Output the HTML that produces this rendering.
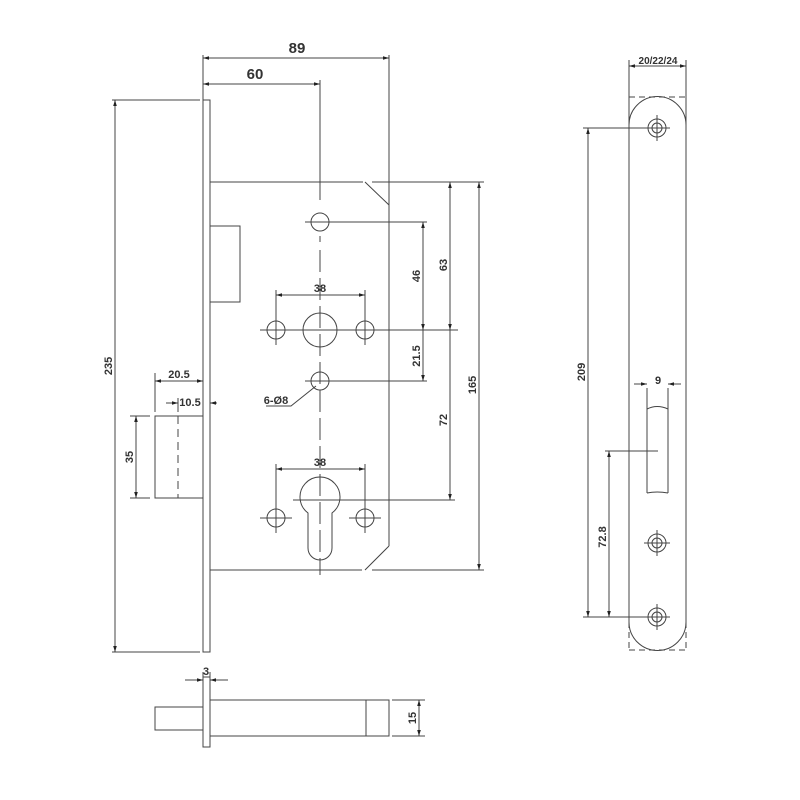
<!DOCTYPE html>
<html><head><meta charset="utf-8"><style>
html,body{margin:0;padding:0;background:#fff}
svg{display:block}
text{font-family:"Liberation Sans",sans-serif;font-weight:bold;fill:#333}
</style></head><body>
<svg width="800" height="800" viewBox="0 0 800 800" xmlns="http://www.w3.org/2000/svg">
<defs>
<marker id="a" viewBox="0 0 10 10" refX="10" refY="5" markerWidth="6" markerHeight="6" orient="auto-start-reverse"><path d="M0,2 L10,5 L0,8 z" fill="#222"/></marker>
</defs>
<g stroke="#444" stroke-width="1" fill="none">
<rect x="203" y="100" width="7" height="552"/>
<path d="M210,182 H363 M365,182 L389,205 M389,55 V546 M389,546 L365,570 M210,570 H362"/>
<line x1="210" y1="182" x2="210" y2="570"/>
<rect x="210" y="226" width="30" height="76"/>
<line x1="203" y1="58" x2="389" y2="58" marker-start="url(#a)" marker-end="url(#a)"/>
<line x1="203" y1="84" x2="320" y2="84" marker-start="url(#a)" marker-end="url(#a)"/>
<line x1="203" y1="55" x2="203" y2="100"/>
<line x1="320" y1="80" x2="320" y2="200"/>
<line x1="320" y1="236" x2="320" y2="242" />
<line x1="320" y1="250" x2="320" y2="575" stroke-dasharray="22,6"/>
<line x1="112" y1="100" x2="200" y2="100"/>
<line x1="112" y1="652" x2="200" y2="652"/>
<line x1="115" y1="100" x2="115" y2="652" marker-start="url(#a)" marker-end="url(#a)"/>
<circle cx="320" cy="222" r="9"/>
<line x1="305" y1="222" x2="427" y2="222"/>
<circle cx="320" cy="330" r="17"/>
<circle cx="276" cy="330" r="9"/>
<circle cx="365" cy="330" r="9"/>
<line x1="260" y1="330" x2="458" y2="330"/>
<line x1="276" y1="290" x2="276" y2="345"/>
<line x1="365" y1="290" x2="365" y2="345"/>
<line x1="276" y1="295" x2="365" y2="295" marker-start="url(#a)" marker-end="url(#a)"/>
<circle cx="320" cy="381" r="9"/>
<line x1="305" y1="381" x2="427" y2="381"/>
<path d="M266,406 H291 L316,386"/>
<line x1="423" y1="222" x2="423" y2="330" marker-start="url(#a)" marker-end="url(#a)"/>
<line x1="423" y1="330" x2="423" y2="381" marker-end="url(#a)"/>
<line x1="450" y1="182" x2="450" y2="330" marker-start="url(#a)" marker-end="url(#a)"/>
<line x1="450" y1="330" x2="450" y2="500" marker-end="url(#a)"/>
<line x1="479" y1="182" x2="479" y2="570" marker-start="url(#a)" marker-end="url(#a)"/>
<line x1="372" y1="182" x2="484" y2="182"/>
<line x1="372" y1="570" x2="484" y2="570"/>
<line x1="293" y1="500" x2="455" y2="500"/>
<path d="M308,513 A20,20 0 1 1 332,513 V548 A12,12 0 0 1 308,548 Z"/>
<circle cx="276" cy="518" r="9"/><line x1="260" y1="518" x2="292" y2="518"/><line x1="276" y1="503" x2="276" y2="533"/>
<circle cx="365" cy="518" r="9"/><line x1="349" y1="518" x2="381" y2="518"/><line x1="365" y1="503" x2="365" y2="533"/>
<line x1="276" y1="464" x2="276" y2="505"/>
<line x1="365" y1="464" x2="365" y2="505"/>
<line x1="276" y1="469" x2="365" y2="469" marker-start="url(#a)" marker-end="url(#a)"/>
<rect x="155" y="416" width="48" height="82"/>
<line x1="178" y1="416" x2="178" y2="498" stroke-dasharray="8,5"/>
<line x1="155" y1="373" x2="155" y2="412"/>
<line x1="155" y1="381" x2="203" y2="381" marker-start="url(#a)" marker-end="url(#a)"/>
<line x1="166" y1="403" x2="178" y2="403" marker-end="url(#a)"/>
<line x1="217" y1="403" x2="210" y2="403" marker-end="url(#a)"/>
<line x1="178" y1="398" x2="178" y2="412"/>
<line x1="130" y1="416" x2="150" y2="416"/>
<line x1="130" y1="498" x2="150" y2="498"/>
<line x1="136" y1="416" x2="136" y2="498" marker-start="url(#a)" marker-end="url(#a)"/>
<rect x="203" y="677" width="7" height="70"/>
<rect x="155" y="707" width="48" height="23"/>
<rect x="210" y="700" width="179" height="36"/>
<line x1="366" y1="700" x2="366" y2="736"/>
<line x1="392" y1="700" x2="425" y2="700"/>
<line x1="392" y1="736" x2="425" y2="736"/>
<line x1="419" y1="700" x2="419" y2="736" marker-start="url(#a)" marker-end="url(#a)"/>
<line x1="185" y1="680" x2="203" y2="680" marker-end="url(#a)"/>
<line x1="228" y1="680" x2="210" y2="680" marker-end="url(#a)"/>
<line x1="203" y1="672" x2="203" y2="677"/><line x1="210" y1="672" x2="210" y2="677"/>
<path d="M629,125 A28,28 0 0 1 686,125 V622 A28,28 0 0 1 629,622 Z"/>
<path d="M629,97 H686 M629,650 H686 M629,622 V650 M686,622 V650" stroke-dasharray="6,4"/>
<line x1="629" y1="60" x2="629" y2="125"/>
<line x1="686" y1="60" x2="686" y2="125"/>
<line x1="629" y1="66" x2="686" y2="66" marker-start="url(#a)" marker-end="url(#a)"/>
<g>
<circle cx="657" cy="128" r="9"/><circle cx="657" cy="128" r="5"/><path d="M644,128 H670 M657,115 V141"/>
<circle cx="657" cy="543" r="9"/><circle cx="657" cy="543" r="5"/><path d="M644,543 H670 M657,530 V556"/>
<circle cx="657" cy="617" r="9"/><circle cx="657" cy="617" r="5"/><path d="M644,617 H670 M657,604 V630"/>
</g>
<line x1="583" y1="128" x2="650" y2="128"/>
<line x1="583" y1="617" x2="650" y2="617"/>
<line x1="588" y1="128" x2="588" y2="617" marker-start="url(#a)" marker-end="url(#a)"/>
<path d="M647,388 V493 M668,388 V493 M647,409 Q657,404 668,409 M647,493 Q657,491 668,493"/>
<line x1="634" y1="384" x2="647" y2="384" marker-end="url(#a)"/>
<line x1="681" y1="384" x2="668" y2="384" marker-end="url(#a)"/>
<line x1="605" y1="451" x2="658" y2="451"/>
<line x1="609" y1="451" x2="609" y2="617" marker-start="url(#a)" marker-end="url(#a)"/>
</g>
<g font-size="13">
<text x="297" y="53" text-anchor="middle" font-size="15">89</text>
<text x="255" y="79" text-anchor="middle" font-size="15">60</text>
<text x="320" y="292" text-anchor="middle" font-size="11">38</text>
<text x="320" y="466" text-anchor="middle" font-size="11">38</text>
<text x="276" y="404" text-anchor="middle" font-size="11">6-Ø8</text>
<text x="179" y="378" text-anchor="middle" font-size="11">20.5</text>
<text x="190" y="406" text-anchor="middle" font-size="11">10.5</text>
<text x="206" y="675" text-anchor="middle" font-size="11">3</text>
<text x="658" y="64" text-anchor="middle" font-size="10">20/22/24</text>
<text x="658" y="384" text-anchor="middle" font-size="11">9</text>
<text transform="translate(112,366) rotate(-90)" text-anchor="middle" font-size="11">235</text>
<text transform="translate(133,457) rotate(-90)" text-anchor="middle" font-size="11">35</text>
<text transform="translate(420,276) rotate(-90)" text-anchor="middle" font-size="11">46</text>
<text transform="translate(420,356) rotate(-90)" text-anchor="middle" font-size="11">21.5</text>
<text transform="translate(447,265) rotate(-90)" text-anchor="middle" font-size="11">63</text>
<text transform="translate(447,420) rotate(-90)" text-anchor="middle" font-size="11">72</text>
<text transform="translate(476,385) rotate(-90)" text-anchor="middle" font-size="11">165</text>
<text transform="translate(416,718) rotate(-90)" text-anchor="middle" font-size="11">15</text>
<text transform="translate(585,372) rotate(-90)" text-anchor="middle" font-size="11">209</text>
<text transform="translate(606,537) rotate(-90)" text-anchor="middle" font-size="11">72.8</text>
</g>
</svg>
</body></html>
